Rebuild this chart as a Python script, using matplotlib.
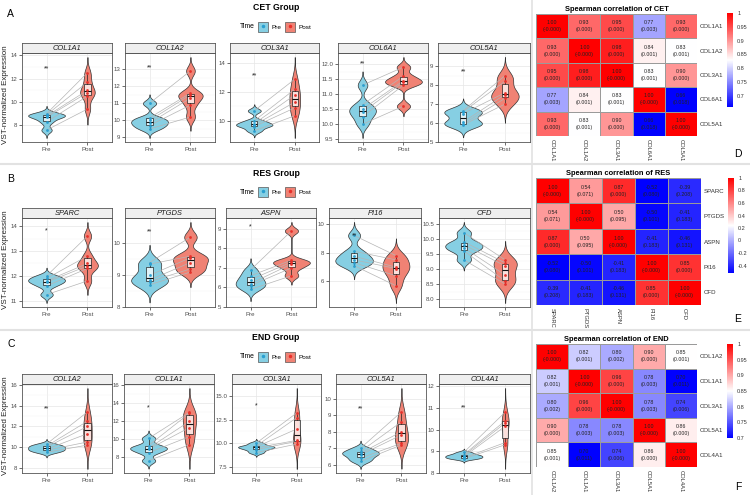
import numpy as np
import matplotlib
matplotlib.use('Agg')
import matplotlib.pyplot as plt
from matplotlib.colors import LinearSegmentedColormap, Normalize
from matplotlib.cm import ScalarMappable
from matplotlib.patches import Patch
from matplotlib.lines import Line2D

plt.rcParams['font.family'] = ['Liberation Sans', 'DejaVu Sans']

# ---- violin data (6 subjects, paired Pre/Post) ----
cet_genes = ['COL1A1', 'COL1A2', 'COL3A1', 'COL6A1', 'COL5A1']
cet_pre = [[7.6, 8.3, 8.7, 8.8, 8.9, 9.0],
           [9.5, 9.7, 9.85, 10.0, 10.15, 11.0],
           [9.3, 9.6, 9.7, 9.8, 10.0, 10.7],
           [10.0, 10.25, 10.4, 10.5, 10.65, 11.3],
           [5.9, 5.95, 6.05, 6.5, 6.6, 6.65]]
cet_post = [[9.4, 10.5, 10.8, 11.0, 11.7, 12.5],
            [10.2, 10.9, 11.3, 11.5, 11.6, 12.9],
            [10.35, 10.9, 11.3, 11.8, 12.2, 12.9],
            [10.6, 11.3, 11.4, 11.45, 11.6, 11.9],
            [7.0, 7.3, 7.5, 7.6, 8.2, 8.5]]
cet_stars = ['**', '**', '**', '**', '**']
cet_star_y = [12.8, 13.1, 13.15, 12.0, 8.7]
cet_yticks = [[8, 10, 12, 14], [9, 10, 11, 12, 13], [10, 12, 14],
              [9.5, 10, 10.5, 11, 11.5, 12], [5, 6, 7, 8, 9]]

res_genes = ['SPARC', 'PTGDS', 'ASPN', 'PI16', 'CFD']
res_pre = [[11.25, 11.6, 11.75, 11.8, 11.9, 12.0],
           [8.7, 8.8, 8.85, 9.0, 9.35, 9.4],
           [5.9, 6.1, 6.2, 6.4, 6.6, 6.9],
           [7.1, 7.3, 7.5, 7.75, 8.1, 9.2],
           [9.3, 9.6, 9.7, 9.8, 9.9, 10.2]]
res_post = [[11.8, 12.3, 12.4, 12.5, 12.8, 13.6],
            [9.1, 9.2, 9.4, 9.55, 9.6, 10.2],
            [6.6, 7.0, 7.2, 7.3, 7.4, 8.9],
            [5.7, 6.4, 6.9, 7.0, 7.5, 7.8],
            [8.5, 8.6, 8.8, 9.1, 9.2, 9.3]]
res_stars = ['*', '**', '*', '**', '']
res_star_y = [13.8, 10.35, 9.1, 9.2, 10.0]
res_yticks = [[11, 12, 13, 14], [8, 9, 10], [5, 6, 7, 8, 9], [6, 8, 10],
              [8, 8.5, 9, 9.5, 10, 10.5]]

end_genes = ['COL1A2', 'COL1A1', 'COL3A1', 'COL5A1', 'COL4A1']
end_pre = [[9.5, 9.7, 9.8, 10.0, 10.1, 10.3],
           [7.6, 8.5, 8.9, 9.0, 9.3, 10.1],
           [9.0, 9.3, 9.5, 9.6, 9.7, 10.0],
           [6.2, 6.4, 6.6, 6.7, 6.8, 7.0],
           [8.65, 8.7, 8.75, 8.8, 8.85, 8.95]]
end_post = [[10.2, 10.5, 11.3, 12.0, 12.5, 13.4],
            [9.4, 10.3, 11.3, 12.0, 12.9, 13.0],
            [9.9, 10.2, 10.3, 11.5, 12.7, 13.2],
            [7.2, 7.3, 7.8, 8.0, 8.6, 9.2],
            [9.3, 9.4, 10.15, 10.3, 10.4, 10.8]]
end_stars = ['**', '*', '*', '**', '**']
end_star_y = [13.7, 13.5, 13.9, 9.4, 11.0]
end_yticks = [[8, 10, 12, 14, 16], [8, 10, 12, 14, 16], [7.5, 10, 12.5, 15],
              [6, 7, 8, 9, 10], [8, 9, 10, 11, 12]]

# ---- spearman correlations ----
cet_r = [[1.00, 0.93, 0.95, 0.77, 0.93],
         [0.93, 1.00, 0.98, 0.84, 0.83],
         [0.95, 0.98, 1.00, 0.83, 0.90],
         [0.77, 0.84, 0.83, 1.00, 0.66],
         [0.93, 0.83, 0.90, 0.66, 1.00]]
cet_p = [[-0.0, 0.000, 0.000, 0.003, 0.000],
         [0.000, -0.0, 0.000, 0.001, 0.001],
         [0.000, 0.000, -0.0, 0.001, 0.000],
         [0.003, 0.001, 0.001, -0.0, 0.018],
         [0.000, 0.001, 0.000, 0.018, -0.0]]
cet_cbar_ticks = [0.7, 0.75, 0.8, 0.85, 0.9, 0.95, 1]

res_r = [[1.00, 0.54, 0.87, -0.52, -0.39],
         [0.54, 1.00, 0.50, -0.50, -0.41],
         [0.87, 0.50, 1.00, -0.41, -0.46],
         [-0.52, -0.50, -0.41, 1.00, 0.85],
         [-0.39, -0.41, -0.46, 0.85, 1.00]]
res_p = [[-0.0, 0.071, 0.000, 0.080, 0.208],
         [0.071, -0.0, 0.095, 0.101, 0.183],
         [0.000, 0.095, -0.0, 0.183, 0.131],
         [0.080, 0.101, 0.183, -0.0, 0.000],
         [0.208, 0.183, 0.131, 0.000, -0.0]]
res_cbar_ticks = [-0.4, -0.2, 0, 0.2, 0.4, 0.6, 0.8, 1]

end_r = [[1.00, 0.82, 0.80, 0.90, 0.85],
         [0.82, 1.00, 0.96, 0.78, 0.70],
         [0.80, 0.96, 1.00, 0.78, 0.74],
         [0.90, 0.78, 0.78, 1.00, 0.86],
         [0.85, 0.70, 0.74, 0.86, 1.00]]
end_p = [[-0.0, 0.001, 0.002, 0.000, 0.001],
         [0.001, -0.0, 0.000, 0.003, 0.011],
         [0.002, 0.000, -0.0, 0.003, 0.006],
         [0.000, 0.003, 0.003, -0.0, 0.000],
         [0.001, 0.011, 0.006, 0.000, -0.0]]
end_cbar_ticks = [0.7, 0.75, 0.8, 0.85, 0.9, 0.95, 1]

PRE_COL = '#86cfe3'
POST_COL = '#f08274'
PRE_PT = '#2a9fd0'
POST_PT = '#e8302a'
W, H = 750, 495


def px(x0, y0, x1, y1):
    return [x0 / W, 1 - y1 / H, (x1 - x0) / W, (y1 - y0) / H]


def kde(vals):
    v = np.asarray(vals, dtype=float)
    n = len(v)
    q1, q3 = np.percentile(v, [25, 75])
    bw = 0.9 * min(v.std(ddof=1), (q3 - q1) / 1.34) * n ** -0.2
    ys = np.linspace(v.min() - 3 * bw, v.max() + 3 * bw, 300)
    d = np.exp(-0.5 * ((ys[:, None] - v[None, :]) / bw) ** 2).sum(1) / (n * bw * np.sqrt(2 * np.pi))
    return ys, d


def violin_panel(fig, rect, gene, pre, post, star, star_y, ticks):
    x0, y0, x1, y1 = rect
    ax = fig.add_axes(px(x0, y0, x1, y1))
    sax = fig.add_axes(px(x0, y0 - 10, x1, y0))
    sax.set_facecolor('#efefef')
    sax.set_xticks([]); sax.set_yticks([])
    for s in sax.spines.values():
        s.set_color('#555555'); s.set_linewidth(0.6)
    sax.text(0.5, 0.45, gene, ha='center', va='center', style='italic',
             fontsize=5.4, color='#1a1a1a', transform=sax.transAxes)

    curves = [kde(pre), kde(post)]
    dmax = max(c[1].max() for c in curves)
    for i, ((ys, d), col) in enumerate(zip(curves, [PRE_COL, POST_COL])):
        w = d / dmax * 0.45
        ax.fill_betweenx(ys, i + 1 - w, i + 1 + w, facecolor=col,
                         edgecolor='#333333', lw=0.5, zorder=2)
    for a, b in zip(pre, post):
        ax.plot([1, 2], [a, b], color='#b5b5b5', lw=0.5, zorder=3)
    bp = ax.boxplot([pre, post], positions=[1, 2], widths=0.15, patch_artist=True,
                    showfliers=False, showcaps=False, zorder=4)
    for b in bp['boxes']:
        b.set_facecolor((1, 1, 1, 0.75)); b.set_edgecolor('#222222'); b.set_linewidth(0.5)
    for m in bp['medians']:
        m.set_color('#111111'); m.set_linewidth(0.8)
    for wk in bp['whiskers']:
        wk.set_color('#222222'); wk.set_linewidth(0.5)
    ax.scatter(np.ones(len(pre)), pre, s=4, color=PRE_PT, zorder=5, lw=0)
    ax.scatter(np.full(len(post), 2), post, s=4, color=POST_PT, zorder=5, lw=0)
    if star:
        ax.text(1, star_y, star, ha='center', va='center', fontsize=5, color='#222222', zorder=6)

    lo = min(c[0].min() for c in curves)
    hi = max(max(c[0].max() for c in curves), star_y if star else -1e9)
    pad = (hi - lo) * 0.05
    ax.set_ylim(lo - pad, hi + pad)
    ax.set_xlim(0.4, 2.6)
    ax.set_xticks([1, 2])
    ax.set_xticklabels(['Pre', 'Post'])
    ax.set_yticks(ticks)
    dec = any(t != int(t) for t in ticks)
    ax.set_yticklabels([f'{t:.1f}' if dec else f'{int(t)}' for t in ticks])
    minor = [(a + b) / 2 for a, b in zip(ticks[:-1], ticks[1:])]
    ax.set_yticks(minor, minor=True)
    ax.tick_params(axis='both', labelsize=4.4, labelcolor='#4d4d4d', length=2,
                   width=0.5, color='#333333', pad=1.5)
    ax.tick_params(axis='y', which='minor', length=0)
    ax.grid(True, which='major', color='#e6e6e6', lw=0.5, zorder=0)
    ax.grid(True, which='minor', axis='y', color='#f2f2f2', lw=0.3, zorder=0)
    ax.set_axisbelow(True)
    for s in ax.spines.values():
        s.set_color('#555555'); s.set_linewidth(0.6)


cmap = LinearSegmentedColormap.from_list('bwr2', ['#0000ff', '#ffffff', '#ff0000'])


def heatmap(fig, rect, crect, genes, r, p, title, cticks):
    r = np.asarray(r); p = np.asarray(p)
    n = len(genes)
    norm = Normalize(vmin=r.min(), vmax=r.max())
    ax = fig.add_axes(px(*rect))
    ax.pcolormesh(np.arange(n + 1), np.arange(n + 1), r, cmap=cmap, norm=norm,
                  edgecolors='#9a9a9a', linewidth=0.5)
    ax.set_xlim(0, n); ax.set_ylim(n, 0)
    for i in range(n):
        for j in range(n):
            ax.text(j + 0.5, i + 0.5, f'{r[i, j]:.2f}\n({p[i, j]:.3f})', ha='center',
                    va='center', fontsize=3.8, color='#222222', linespacing=1.5)
    ax.set_xticks(np.arange(n) + 0.5)
    ax.set_xticklabels(genes, rotation=-90, fontsize=4.2, color='#333333')
    ax.set_yticks(np.arange(n) + 0.5)
    ax.set_yticklabels(genes, fontsize=4.4, color='#333333')
    ax.yaxis.tick_right()
    ax.tick_params(length=0, pad=2)
    for s in ax.spines.values():
        s.set_visible(False)
    ax.set_title(title, fontsize=5.4, fontweight='bold', pad=2)
    cax = fig.add_axes(px(*crect))
    cb = fig.colorbar(ScalarMappable(norm=norm, cmap=cmap), cax=cax)
    cb.outline.set_visible(False)
    cb.set_ticks(cticks)
    cb.set_ticklabels([f'{t:g}' for t in cticks])
    cb.ax.tick_params(labelsize=4, length=1.5, width=0.5, color='white', pad=1.5,
                      labelcolor='#333333')


fig = plt.figure(figsize=(7.5, 4.95), dpi=100)

groups = [
    ('CET Group', 'A', 'D', cet_genes, cet_pre, cet_post, cet_stars, cet_star_y, cet_yticks,
     cet_r, cet_p, 'Spearman correlation of CET', cet_cbar_ticks),
    ('RES Group', 'B', 'E', res_genes, res_pre, res_post, res_stars, res_star_y, res_yticks,
     res_r, res_p, 'Spearman correlation of RES', res_cbar_ticks),
    ('END Group', 'C', 'F', end_genes, end_pre, end_post, end_stars, end_star_y, end_yticks,
     end_r, end_p, 'Spearman correlation of END', end_cbar_ticks),
]
row_top = [0, 165, 330]
plot_y = [(53, 142), (218, 307), (384, 473)]
panel_x = [[(22, 112), (125, 215), (230, 319), (338, 428), (438, 530)],
           [(22, 112), (125, 215), (226, 316), (329, 421), (439, 530)],
           [(22, 112), (124, 214), (232, 321), (336, 426), (439, 530)]]
heat_rect = [(536, 14, 697, 136), (536, 178, 701, 305), (536, 344, 697, 467)]
cbar_rect = [(727, 13, 733, 107), (728, 178, 734, 273), (727, 344, 733, 438)]
letter2_y = [154, 319, 487]

for k, g in enumerate(groups):
    (gtitle, l1, l2, genes, pre, post, stars, sy, yt, r, p, htitle, ct) = g
    top = row_top[k]
    y0, y1 = plot_y[k]
    for j in range(5):
        xa, xb = panel_x[k][j]
        violin_panel(fig, (xa, y0, xb, y1), genes[j], pre[j], post[j], stars[j], sy[j], yt[j])
    fig.text(276 / W, 1 - (top + 8) / H, gtitle, ha='center', va='center',
             fontsize=6.3, fontweight='bold')
    fig.text(7 / W, 1 - (top + 14) / H, l1, ha='left', va='center', fontsize=7.5)
    fig.text(738 / W, 1 - letter2_y[k] / H, l2, ha='center', va='center', fontsize=7.5)
    fig.text(6 / W, 1 - (y0 + y1 - 6) / 2 / H, 'VST-normalized Expression', rotation=90,
             ha='center', va='center', fontsize=5.8, color='#222222')
    fig.text(240 / W, 1 - (top + 27) / H, 'Time', ha='left', va='center', fontsize=4.9)
    handles = [(Patch(facecolor=PRE_COL, edgecolor='#555555', lw=0.5),
                Line2D([], [], marker='o', ls='', ms=1.5, color=PRE_PT)),
               (Patch(facecolor=POST_COL, edgecolor='#555555', lw=0.5),
                Line2D([], [], marker='o', ls='', ms=1.5, color=POST_PT))]
    fig.legend(handles, ['Pre', 'Post'], loc='center left', ncol=2, frameon=False,
               bbox_to_anchor=(258 / W, 1 - (top + 27) / H), fontsize=4.6,
               handlelength=1.6, handleheight=1.8, handletextpad=0.5, columnspacing=0.6,
               borderaxespad=0, borderpad=0)
    heatmap(fig, heat_rect[k], cbar_rect[k], genes, r, p, htitle, ct)

# section dividers
for yy in [164, 330]:
    fig.add_artist(Line2D([0, 1], [1 - yy / H] * 2, color='#e2e2e2', lw=1.5))
fig.add_artist(Line2D([532 / W] * 2, [0, 1], color='#e2e2e2', lw=1.2))

fig.savefig('out.png', dpi=100)
